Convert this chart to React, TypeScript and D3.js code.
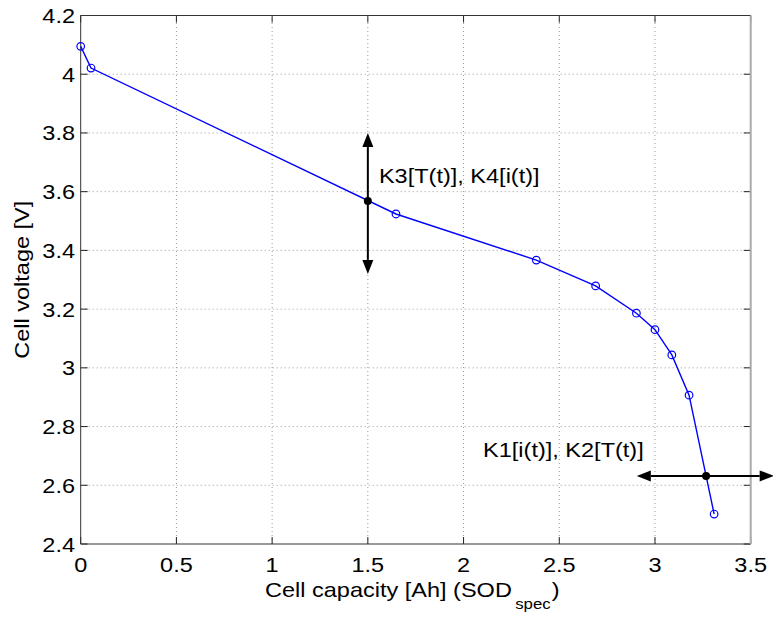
import React from "react";
import * as d3 from "d3";

const capacity = [0, 0.054, 1.647, 2.38, 2.69, 2.903, 3.0, 3.088, 3.178, 3.309];
const voltage = [4.095, 4.021, 3.524, 3.367, 3.279, 3.186, 3.13, 3.044, 2.907, 2.502];
const xTicks = [0, 0.5, 1, 1.5, 2, 2.5, 3, 3.5];
const xTickLabels = ["0", "0.5", "1", "1.5", "2", "2.5", "3", "3.5"];
const yTicks = [2.4, 2.6, 2.8, 3.0, 3.2, 3.4, 3.6, 3.8, 4.0, 4.2];
const yTickLabels = ["2.4", "2.6", "2.8", "3", "3.2", "3.4", "3.6", "3.8", "4", "4.2"];
// operating points and arrow extents
const pointsX = [1.5, 3.267];
const pointsY = [3.568, 2.632];
const vArrowY = [3.32, 3.80];
const hArrowX = [2.905, 3.62];
const annotations = ["K3[T(t)], K4[i(t)]", "K1[i(t)], K2[T(t)]"];
const annotX = [1.558, 2.102];
const annotY = [3.63, 2.697];

const W = 773, H = 617;
const FONT = "'Liberation Sans', Arial, Helvetica, sans-serif";
const FS = 21;
const SX = 1.12;

function T({ x, y, anchor = "start", rotate = 0, size = FS, children }: any) {
  return (
    <g transform={`translate(${x},${y}) rotate(${rotate}) scale(${SX},1)`}>
      <text x={0} y={0} textAnchor={anchor} fontFamily={FONT} fontSize={size} fill="#000">
        {children}
      </text>
    </g>
  );
}

export default function App() {
  const x = d3.scaleLinear().domain([0, 3.5]).range([80.7, 750.7]);
  const y = d3.scaleLinear().domain([2.4, 4.2]).range([544, 15.5]);
  const [x0, x1] = x.range();
  const [y0, y1] = y.range();
  const line = d3.line<number>().x((_, i) => x(capacity[i])).y((_, i) => y(voltage[i]));
  const tl = 7;
  const ah = 14, aw = 5.5;
  const blue = "#0000ff";

  return (
    <svg width={W} height={H} style={{ position: "absolute", left: 0, top: 0, background: "#fff" }}>
      <rect x={0} y={0} width={W} height={H} fill="#fff" />
      {/* grid */}
      {xTicks.slice(1, -1).map((t) => (
        <line key={"gx" + t} x1={x(t)} x2={x(t)} y1={y0} y2={y1} stroke="#999" strokeWidth={1} strokeDasharray="1,3" />
      ))}
      {yTicks.slice(1, -1).map((t) => (
        <line key={"gy" + t} x1={x0} x2={x1} y1={y(t)} y2={y(t)} stroke="#999" strokeWidth={1} strokeDasharray="1,3" />
      ))}
      {/* ticks */}
      {xTicks.map((t) => (
        <g key={"tx" + t}>
          <line x1={x(t)} x2={x(t)} y1={y0} y2={y0 - tl} stroke="#222" />
          <line x1={x(t)} x2={x(t)} y1={y1} y2={y1 + tl} stroke="#222" />
        </g>
      ))}
      {yTicks.map((t) => (
        <g key={"ty" + t}>
          <line x1={x0} x2={x0 + tl} y1={y(t)} y2={y(t)} stroke="#222" />
          <line x1={x1} x2={x1 - tl} y1={y(t)} y2={y(t)} stroke="#222" />
        </g>
      ))}
      {/* box */}
      <line x1={x0} x2={x1} y1={y1} y2={y1} stroke="#333" strokeWidth={1} />
      <line x1={x0} x2={x0} y1={y0} y2={y1} stroke="#333" strokeWidth={1} />
      <line x1={x0} x2={x1} y1={y0} y2={y0} stroke="#333" strokeWidth={1} />
      <line x1={x1} x2={x1} y1={y0} y2={y1} stroke="#aaa" strokeWidth={2} />
      {/* tick labels */}
      {xTicks.map((t, i) => (
        <T key={"lx" + t} x={x(t)} y={571.5} anchor="middle">{xTickLabels[i]}</T>
      ))}
      {yTicks.map((t, i) => (
        <T key={"ly" + t} x={75} y={y(t) + 7.5} anchor="end">{yTickLabels[i]}</T>
      ))}
      {/* axis labels */}
      <g transform={`translate(265,597) scale(${SX},1)`}>
        <text x={0} y={0} fontFamily={FONT} fontSize={FS} fill="#000">
          Cell capacity [Ah] (SOD
          <tspan fontSize={15} dx={3} dy={12}>spec</tspan>
          <tspan dx={1} dy={-12}>)</tspan>
        </text>
      </g>
      <T x={29} y={(y0 + y1) / 2} anchor="middle" rotate={-90}>Cell voltage [V]</T>
      {/* data line */}
      <path d={line(capacity) || ""} fill="none" stroke={blue} strokeWidth={1.4} />
      {capacity.map((c, i) => (
        <circle key={"m" + i} cx={x(c)} cy={y(voltage[i])} r={3.8} fill="none" stroke={blue} strokeWidth={1.2} />
      ))}
      {/* vertical arrow */}
      <line x1={x(pointsX[0])} x2={x(pointsX[0])} y1={y(vArrowY[1]) + ah} y2={y(vArrowY[0]) - ah} stroke="#000" strokeWidth={2} />
      <path d={`M${x(pointsX[0])},${y(vArrowY[1])} l${-aw},${ah} l${2 * aw},0 Z`} fill="#000" />
      <path d={`M${x(pointsX[0])},${y(vArrowY[0])} l${-aw},${-ah} l${2 * aw},0 Z`} fill="#000" />
      {/* horizontal arrow */}
      <line x1={x(hArrowX[0]) + ah} x2={x(hArrowX[1]) - ah} y1={y(pointsY[1])} y2={y(pointsY[1])} stroke="#000" strokeWidth={2} />
      <path d={`M${x(hArrowX[0])},${y(pointsY[1])} l${ah},${-aw} l0,${2 * aw} Z`} fill="#000" />
      <path d={`M${x(hArrowX[1])},${y(pointsY[1])} l${-ah},${-aw} l0,${2 * aw} Z`} fill="#000" />
      {/* operating points */}
      {pointsX.map((px, i) => (
        <circle key={"p" + i} cx={x(px)} cy={y(pointsY[i])} r={4} fill="#000" />
      ))}
      {/* annotations */}
      {annotations.map((a, i) => (
        <T key={"a" + i} x={x(annotX[i])} y={y(annotY[i])}>{a}</T>
      ))}
    </svg>
  );
}
